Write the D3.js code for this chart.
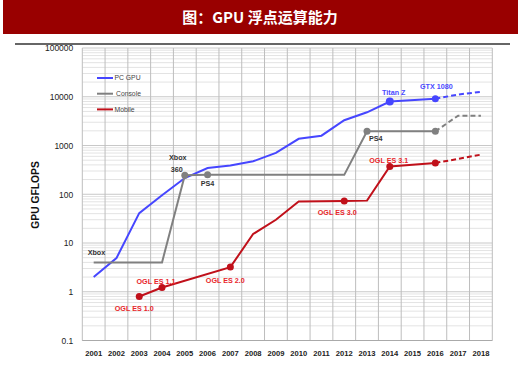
<!DOCTYPE html>
<html><head><meta charset="utf-8">
<script src="https://cdn.jsdelivr.net/npm/d3@7/dist/d3.min.js"></script>
<style>
html,body{margin:0;padding:0;background:#fff;}
svg{display:block;}
</style></head>
<body>
<svg id="chart" width="520" height="369"></svg>
<script>
// ---------- data ----------
const years = [2001,2002,2003,2004,2005,2006,2007,2008,2009,2010,2011,2012,2013,2014,2015,2016,2017,2018];
const yTicks = [0.1,1,10,100,1000,10000,100000];
const yTickLabels = ["0.1","1","10","100","1000","10000","100000"];

const pcYears  = [2001,2002,2003,2004,2005,2006,2007,2008,2009,2010,2011,2012,2013,2014,2016,2017,2018];
const pcValues = [2,4.9,41,95,215,345,387,474,707,1370,1590,3300,4800,7950,9100,11100,12600];

const consoleYears  = [2001,2004,2005,2006,2012,2013,2016,2017,2018];
const consoleValues = [4,4,245,250,250,1950,1950,4100,4100];

const mobileYears  = [2003,2004,2007,2008,2009,2010,2011,2012,2013,2014,2016,2017,2018];
const mobileValues = [0.8,1.22,3.2,15.3,30,71,72,73,74,372,440,530,650];

const projectionStart = 2016; // dashed after this year

const seriesNames = ["PC GPU","Console","Mobile"];

// marker points [series, year, value]
const pcMarkers      = [[2014,7950],[2016,9100]];
const consoleMarkers = [[2005,245],[2006,250],[2013,1950],[2016,1950]];
const mobileMarkers  = [[2003,0.8],[2004,1.22],[2007,3.2],[2012,73],[2014,372],[2016,440]];

// annotations: text, year, value
const pcLabels      = [["Titan Z",2014,7950],["GTX 1080",2016,9100]];
const consoleLabels = [["Xbox",2001,4],["Xbox",2005,245],["360",2005,245],["PS4",2006,250],["PS4",2013,1950]];
const mobileLabels  = [["OGL ES 1.0",2003,0.8],["OGL ES 1.1",2004,1.22],["OGL ES 2.0",2007,3.2],["OGL ES 3.0",2012,73],["OGL ES 3.1",2014,372]];

// ---------- layout / style ----------
const colors = {pc:"#4646ff", console:"#808080", mobile:"#c0101a"};
const labelColors = {pc:"#4a4aff", console:"#333333", mobile:"#e8262b"};
// label offsets (dx, dy, anchor) by index within each label list
const pcLabelOff = [[4,-7,"middle"],[1,-10,"middle"]];
const consoleLabelOff = [[-6,-7,"start"],[-7,-15,"middle"],[-8,-3,"middle"],[0,11.5,"middle"],[2,9.5,"start"]];
const mobileLabelOff = [[-5,15,"middle"],[-6,-4,"middle"],[-5,16,"middle"],[-7,14,"middle"],[-1,-3,"middle"]];

const svg = d3.select("#chart");
const L = 82.3, R = 492.3, T = 48, B = 340.5;

// title bar
svg.append("rect").attr("x",3).attr("y",0).attr("width",515).attr("height",34).attr("fill","#990000");
svg.append("text").attr("x",260).attr("y",22.5).attr("text-anchor","middle")
  .attr("fill","#fff").attr("font-family","'Noto Sans CJK SC', sans-serif").attr("font-weight","bold")
  .attr("font-size",15).text("图：GPU 浮点运算能力");
svg.append("line").attr("x1",15).attr("x2",510).attr("y1",44).attr("y2",44)
  .attr("stroke","#333").attr("stroke-width",1.6);

const x = d3.scaleBand().domain(years).range([L,R]).padding(0);
const cx = yr => x(yr) + x.bandwidth()/2;
const y = d3.scaleLog().domain([0.1,100000]).range([B,T]);

const g = svg.append("g");

// minor horizontal grid
const minor = [];
for (let k=-1;k<5;k++) for (let m=2;m<10;m++) minor.push(m*Math.pow(10,k));
g.selectAll(".minor").data(minor).enter().append("line")
  .attr("x1",L).attr("x2",R).attr("y1",d=>y(d)).attr("y2",d=>y(d))
  .attr("stroke","#e3e3e3").attr("stroke-width",1);
// major horizontal grid
g.selectAll(".major").data(yTicks).enter().append("line")
  .attr("x1",L).attr("x2",R).attr("y1",d=>y(d)).attr("y2",d=>y(d))
  .attr("stroke","#c8c8c8").attr("stroke-width",1);
// vertical grid at band edges
const edges = years.map(d=>x(d)).concat([R]);
g.selectAll(".vg").data(edges).enter().append("line")
  .attr("x1",d=>d).attr("x2",d=>d).attr("y1",T).attr("y2",B)
  .attr("stroke","#bdbdbd").attr("stroke-width",1);
g.append("line").attr("x1",L).attr("x2",R).attr("y1",B).attr("y2",B).attr("stroke","#aaa");

// axes
const yAxis = d3.axisLeft(y).tickValues(yTicks).tickSize(0).tickPadding(0)
  .tickFormat((d,i)=>yTickLabels[i]);
const ya = svg.append("g").attr("transform",`translate(${L-9},0)`).call(yAxis);
ya.select(".domain").remove();
ya.selectAll("text").attr("font-family","'Liberation Sans', Arial, sans-serif").attr("font-size",8.5).attr("fill","#222").attr("dy","0.35em");

const xAxis = d3.axisBottom(x).tickSize(0).tickPadding(0);
const xa = svg.append("g").attr("transform",`translate(0,${B+10})`).call(xAxis);
xa.select(".domain").remove();
xa.selectAll("text").attr("font-family","'Liberation Sans', Arial, sans-serif").attr("font-size",7.6)
  .attr("font-weight","bold").attr("fill","#222");

svg.append("text").attr("transform","translate(38.5,195) rotate(-90)").attr("text-anchor","middle")
  .attr("font-family","'Liberation Sans', Arial, sans-serif").attr("font-weight","bold").attr("font-size",10.3)
  .attr("fill","#111").text("GPU GFLOPS");

// series
function drawSeries(ys, vs, color) {
  const pts = ys.map((d,i)=>[d,vs[i]]);
  const line = d3.line().x(d=>cx(d[0])).y(d=>y(d[1]));
  const solid = pts.filter(d=>d[0]<=projectionStart);
  const dashed = pts.filter(d=>d[0]>=projectionStart);
  g.append("path").attr("d",line(solid)).attr("fill","none").attr("stroke",color).attr("stroke-width",2);
  g.append("path").attr("d",line(dashed)).attr("fill","none").attr("stroke",color).attr("stroke-width",2)
    .attr("stroke-dasharray","5,3");
}
drawSeries(pcYears, pcValues, colors.pc);
drawSeries(consoleYears, consoleValues, colors.console);
drawSeries(mobileYears, mobileValues, colors.mobile);

function markers(arr, color, r) {
  g.selectAll(null).data(arr).enter().append("circle")
    .attr("cx",d=>cx(d[0])).attr("cy",d=>y(d[1])).attr("r",(d,i)=>r(i)).attr("fill",color);
}
markers(pcMarkers, colors.pc, i=> i===0?4:3.5);
markers(consoleMarkers, colors.console, ()=>3.5);
markers(mobileMarkers, colors.mobile, ()=>3.5);

function labels(arr, off, color) {
  svg.selectAll(null).data(arr).enter().append("text")
    .attr("x",(d,i)=>cx(d[1])+off[i][0]).attr("y",(d,i)=>y(d[2])+off[i][1])
    .attr("text-anchor",(d,i)=>off[i][2])
    .attr("font-family","'Liberation Sans', Arial, sans-serif").attr("font-weight","bold").attr("font-size",7.2)
    .attr("fill",color).text(d=>d[0]);
}
labels(pcLabels, pcLabelOff, labelColors.pc);
labels(consoleLabels, consoleLabelOff, labelColors.console);
labels(mobileLabels, mobileLabelOff, labelColors.mobile);

// legend
const legColors = [colors.pc, colors.console, colors.mobile];
const lg = svg.append("g");
seriesNames.forEach((n,i)=>{
  const yy = 78 + i*15.7;
  lg.append("line").attr("x1",97).attr("x2",113).attr("y1",yy).attr("y2",yy)
    .attr("stroke",legColors[i]).attr("stroke-width",2);
  lg.append("text").attr("x",i===1?116:114.5).attr("y",yy+2.4)
    .attr("font-family","'Liberation Sans', Arial, sans-serif").attr("font-size",6.8).attr("fill","#444").text(n);
});
</script>
</body></html>
